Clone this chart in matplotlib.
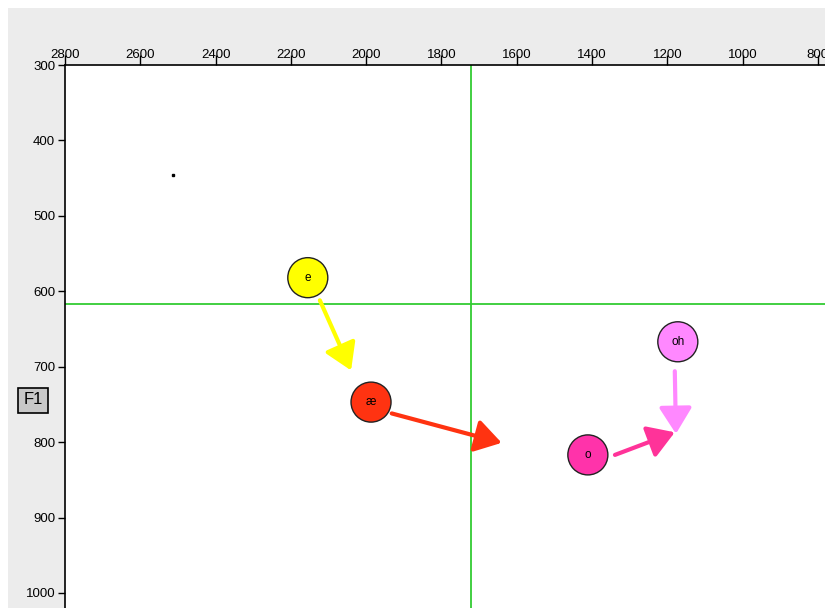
import matplotlib.pyplot as plt
from matplotlib.patches import Rectangle

# vowel means (F2, F1) in Hz
vowels = ['e', 'æ', 'o', 'oh']
f2 = [2155, 1987, 1411, 1172]
f1 = [582, 747, 817, 667]
colors = ['#ffff00', '#ff3311', '#ff33aa', '#ff88ff']

# glide arrows: start and end (F2, F1)
arrow_f2_start = [2123, 1932, 1339, 1180]
arrow_f1_start = [612, 762, 817, 706]
arrow_f2_end = [2040, 1640, 1180, 1177]
arrow_f1_end = [705, 801, 787, 789]
arrow_colors = ['#ffff00', '#ff3311', '#ff3399', '#ff88ff']

# stray point and crosshair
dot_f2, dot_f1 = 2513, 446
cross_f2, cross_f1 = 1722, 617

x_ticks = [2800, 2600, 2400, 2200, 2000, 1800, 1600, 1400, 1200, 1000, 800]
y_ticks = [300, 400, 500, 600, 700, 800, 900, 1000]

plt.rcParams['font.family'] = ['Liberation Sans', 'DejaVu Sans']

fig = plt.figure(figsize=(8.25, 6.08), dpi=100)
fig.patch.set_facecolor('white')
fig.add_artist(Rectangle((8 / 825, 0), 1, 1 - 8 / 608, transform=fig.transFigure,
                         facecolor='#ececec', edgecolor='none', zorder=-10))

ax = fig.add_axes([65 / 825, 0, 760 / 825, 543 / 608])
ax.set_facecolor('white')
ax.set_xlim(2800, 781)
ax.set_ylim(1020, 300)

ax.axvline(cross_f2, color='#33cc33', lw=1.3, zorder=1)
ax.axhline(cross_f1, color='#33cc33', lw=1.3, zorder=1)

ax.plot([dot_f2], [dot_f1], marker='s', color='black', markersize=2, linestyle='none')

for i in range(len(arrow_colors)):
    ax.annotate(
        '',
        xy=(arrow_f2_end[i], arrow_f1_end[i]),
        xytext=(arrow_f2_start[i], arrow_f1_start[i]),
        arrowprops=dict(arrowstyle='-|>,head_length=0.8,head_width=0.5',
                        color=arrow_colors[i], lw=3, mutation_scale=20,
                        shrinkA=0, shrinkB=0),
        zorder=2,
    )

ax.scatter(f2, f1, s=830, c=colors, edgecolors='#222222', linewidths=1, zorder=3)
for v, x, y in zip(vowels, f2, f1):
    ax.text(x, y, v, ha='center', va='center', fontsize=8.5, zorder=4)

ax.xaxis.tick_top()
ax.set_xticks(x_ticks)
ax.set_yticks(y_ticks)
ax.tick_params(axis='x', direction='out', length=7, width=1, pad=-4, labelsize=9.5)
ax.tick_params(axis='y', direction='out', length=5, width=1, pad=2, labelsize=9.5)
ax.spines['right'].set_visible(False)
ax.spines['bottom'].set_visible(False)
ax.spines['top'].set_linewidth(1.2)
ax.spines['left'].set_linewidth(1.2)

fig.text(33 / 825, 1 - 400 / 608, 'F1', ha='center', va='center', fontsize=12,
         bbox=dict(boxstyle='square,pad=0.3', facecolor='#c8c8c8', edgecolor='black', lw=1.2))

fig.savefig('out.png', dpi=100)
